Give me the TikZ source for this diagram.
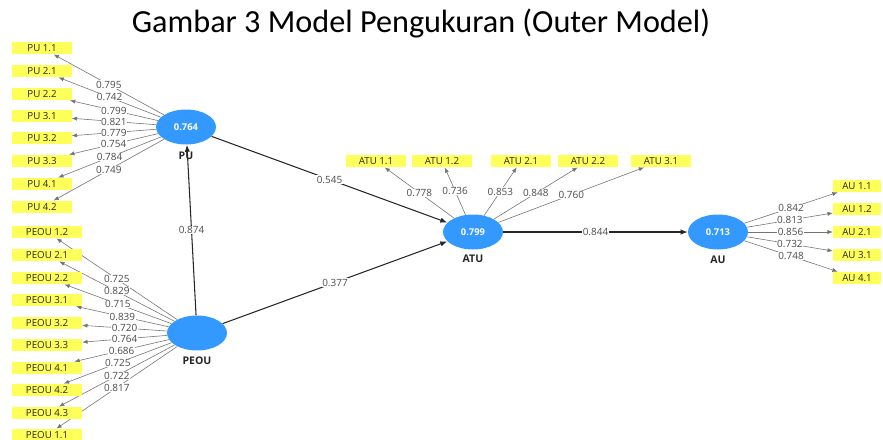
\documentclass[tikz,border=0pt]{standalone}
\usepackage{fontspec}
\setmainfont{Open Sans}
\newfontfamily\titlefont{Carlito}
\usetikzlibrary{arrows.meta,shapes.geometric}
\definecolor{lvblue}{RGB}{51,153,255}
\definecolor{mvyellow}{RGB}{255,255,90}
\pgfdeclarelayer{bg}
\pgfsetlayers{bg,main}

\begin{document}
\begin{tikzpicture}[x=0.03cm,y=-0.03cm,
  lv/.style={ellipse,fill=lvblue,minimum width=1.8cm,minimum height=1.05cm,inner sep=0pt,
    text=white,font=\bfseries\fontsize{8}{9}\selectfont},
  lvname/.style={font=\bfseries\fontsize{9}{10}\selectfont,text=black!85},
  mv/.style={rectangle,fill=mvyellow,minimum height=0.37cm,inner sep=0pt,
    font=\fontsize{8.3}{9}\selectfont,text=black!85},
  loading/.style={draw=black!55,line width=0.5pt,-{Latex[length=4.5pt,width=3.5pt]}},
  struct/.style={draw=black!85,line width=0.9pt,-{Latex[length=6pt,width=4.5pt]}},
  coef/.style={fill=white,inner sep=0.4pt,text=black!70,font=\fontsize{8.5}{9}\selectfont}]
\useasboundingbox (0,0) rectangle (883,439);
\clip (0,0) rectangle (883,439);

\node[font=\titlefont\fontsize{27.5}{32}\selectfont] (title) at (421,23) {Gambar 3 Model Pengukuran (Outer Model)};

% latent variables
\node[lv] (PU) at (186,127) {0.764};
\node[lv] (PEOU) at (197,333) {};
\node[lv] (ATU) at (473,232) {0.799};
\node[lv] (AU) at (718,232) {0.713};
\node[lvname] (PUname) at (186,156) {PU};
\node[lvname] (PEOUname) at (197,361) {PEOU};
\node[lvname] (ATUname) at (473,259) {ATU};
\node[lvname] (AUname) at (718,260) {AU};

% indicators of PU
\foreach \i/\t/\y/\v in {1/PU 1.1/48/0.795, 2/PU 2.1/71/0.742, 3/PU 2.2/94/0.799, 4/PU 3.1/116/0.821,
    5/PU 3.2/138/0.779, 6/PU 3.3/161/0.754, 7/PU 4.1/184/0.784, 8/PU 4.2/207/0.749} {
  \node[mv,minimum width=1.77cm] (pu\i) at (42,\y) {\t};
  \begin{pgfonlayer}{bg}\draw[loading] (PU) -- (pu\i);\end{pgfonlayer}
  \path (PU) -- (pu\i) node[coef,midway] {\v};
}

% indicators of PEOU
\foreach \i/\t/\y/\v in {1/PEOU 1.2/232/0.725, 2/PEOU 2.1/255/0.829, 3/PEOU 2.2/278/0.715,
    4/PEOU 3.1/300/0.839, 5/PEOU 3.2/323/0.720, 6/PEOU 3.3/345/0.764, 7/PEOU 4.1/368/0.686,
    8/PEOU 4.2/390/0.725, 9/PEOU 4.3/413/0.722, 10/PEOU 1.1/435/0.817} {
  \node[mv,minimum width=2.1cm] (peou\i) at (47,\y) {\t};
  \begin{pgfonlayer}{bg}\draw[loading] (PEOU) -- (peou\i);\end{pgfonlayer}
  \path (PEOU) -- (peou\i) node[coef,midway] {\v};
}

% indicators of ATU
\foreach \i/\t/\x/\v in {1/ATU 1.1/376/0.778, 2/ATU 1.2/442/0.736, 3/ATU 2.1/521/0.853,
    4/ATU 2.2/588/0.848, 5/ATU 3.1/661/0.760} {
  \node[mv,minimum width=1.8cm] (atu\i) at (\x,161) {\t};
  \begin{pgfonlayer}{bg}\draw[loading] (ATU) -- (atu\i);\end{pgfonlayer}
  \path (ATU) -- (atu\i) node[coef,midway] {\v};
}

% indicators of AU
\foreach \i/\t/\y/\v in {1/AU 1.1/186/0.842, 2/AU 1.2/209/0.813, 3/AU 2.1/232/0.856,
    4/AU 3.1/255/0.732, 5/AU 4.1/278/0.748} {
  \node[mv,minimum width=1.44cm] (au\i) at (857,\y) {\t};
  \begin{pgfonlayer}{bg}\draw[loading] (AU) -- (au\i);\end{pgfonlayer}
  \path (AU) -- (au\i) node[coef,midway] {\v};
}

% inner model
\draw[struct] (PEOU) -- node[coef] {0.874} (PU);
\draw[struct] (PU) -- node[coef] {0.545} (ATU);
\draw[struct] (PEOU) -- node[coef] {0.377} (ATU);
\draw[struct] (ATU) -- node[coef] {0.844} (AU);
\end{tikzpicture}
\end{document}
